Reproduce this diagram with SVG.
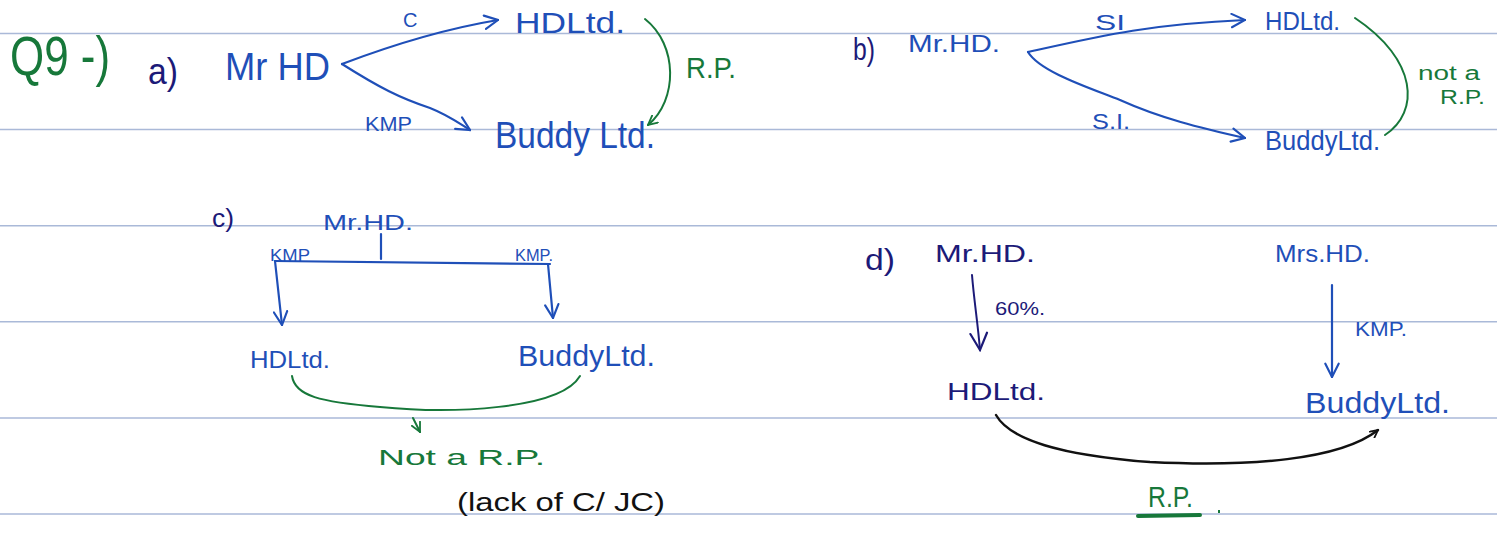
<svg xmlns="http://www.w3.org/2000/svg" width="1497" height="533" viewBox="0 0 1497 533">
<style>
.t{font-family:"Liberation Sans","DejaVu Sans",sans-serif}
.blue{fill:#1f4fb8}
.navy{fill:#1c1a78}
.green{fill:#17783a}
.black{fill:#111}
.rule{stroke:#aab9d8;stroke-width:1.5}
.cb{fill:none;stroke:#1f4fb8;stroke-width:2.2;stroke-linecap:round}
.cn{fill:none;stroke:#1c1a78;stroke-width:2;stroke-linecap:round}
.cg{fill:none;stroke:#17783a;stroke-width:2;stroke-linecap:round}
.ck{fill:none;stroke:#111;stroke-width:2.4;stroke-linecap:round}
</style>
<defs>
<marker id="ab" viewBox="0 0 12 12" refX="11" refY="6" markerWidth="16" markerHeight="16" orient="auto" markerUnits="userSpaceOnUse"><path d="M1,1 L11,6 L1,11" fill="none" stroke="#1f4fb8" stroke-width="1.6" stroke-linecap="round"/></marker>
<marker id="an" viewBox="0 0 12 12" refX="11" refY="6" markerWidth="20" markerHeight="20" orient="auto" markerUnits="userSpaceOnUse"><path d="M1,1 L11,6 L1,11" fill="none" stroke="#1c1a78" stroke-width="1.3" stroke-linecap="round"/></marker>
<marker id="ag" viewBox="0 0 12 12" refX="11" refY="6" markerWidth="11" markerHeight="11" orient="auto" markerUnits="userSpaceOnUse"><path d="M1,1 L11,6 L1,11" fill="none" stroke="#17783a" stroke-width="2" stroke-linecap="round"/></marker>
<marker id="ak" viewBox="0 0 12 12" refX="11" refY="6" markerWidth="9" markerHeight="9" orient="auto" markerUnits="userSpaceOnUse"><path d="M1,1 L11,6 L1,11" fill="none" stroke="#111" stroke-width="2.4" stroke-linecap="round"/></marker>
</defs>
<rect width="1497" height="533" fill="#fff"/>
<g id="rules">
<line class="rule" x1="0" y1="33.5" x2="1497" y2="33.5"/>
<line class="rule" x1="0" y1="129.5" x2="1497" y2="129.5"/>
<line class="rule" x1="0" y1="225.7" x2="1497" y2="225.7"/>
<line class="rule" x1="0" y1="321.7" x2="1497" y2="321.7"/>
<line class="rule" x1="0" y1="418" x2="1497" y2="418"/>
<line class="rule" x1="0" y1="514" x2="1497" y2="514"/>
</g>
<g id="connectors">
<path class="cb" d="M342,64 C400,42 450,28 498,20" marker-end="url(#ab)"/>
<path class="cb" d="M342,64 C380,88 400,98 430,108 C450,116 460,124 470,130" marker-end="url(#ab)"/>
<path class="cg" d="M645,19 C678,45 678,100 648,125" marker-end="url(#ag)"/>
<path class="cb" d="M1028,52 C1100,36 1150,24 1245,20" marker-end="url(#ab)"/>
<path class="cb" d="M1028,52 C1040,72 1090,88 1120,100 C1160,118 1200,128 1245,138" marker-end="url(#ab)"/>
<path class="cg" d="M1355,18 C1418,60 1420,112 1385,135"/>
<path class="cb" d="M381,234 L381,259"/>
<path class="cb" d="M275,261 L550,264"/>
<path class="cb" d="M275,261 L282,325" marker-end="url(#ab)"/>
<path class="cb" d="M548,264 L553,318" marker-end="url(#ab)"/>
<path class="cg" d="M292,376 C295,396 320,402 380,407 C450,414 560,410 580,376"/>
<path class="cg" d="M413,418 L420,432" marker-end="url(#ag)"/>
<path class="cn" d="M972,275 C974,300 978,325 980,350" marker-end="url(#an)"/>
<path class="cb" d="M1332,285 L1332,377" marker-end="url(#ab)"/>
<path class="ck" d="M996,415 C1010,440 1060,455 1150,462 C1250,467 1340,460 1378,430" marker-end="url(#ak)"/>
</g>
<g id="heading"><text class="t green" x="10" y="75" font-size="56" textLength="100" lengthAdjust="spacingAndGlyphs">Q9 -)</text></g>
<g id="part-a">
<text class="t navy" x="148" y="84" font-size="36" textLength="30" lengthAdjust="spacingAndGlyphs">a)</text>
<g id="a-mrhd"><text class="t blue" x="225" y="80" font-size="38" textLength="105" lengthAdjust="spacingAndGlyphs">Mr HD</text></g>
<g id="a-hdl"><text class="t blue" x="515" y="33" font-size="30" textLength="110" lengthAdjust="spacingAndGlyphs">HDLtd.</text></g>
<g id="a-buddy"><text class="t blue" x="495" y="148" font-size="36" textLength="160" lengthAdjust="spacingAndGlyphs">Buddy Ltd.</text></g>
<text class="t blue" x="403" y="27" font-size="20">C</text>
<text class="t blue" x="365" y="131" font-size="20" textLength="47" lengthAdjust="spacingAndGlyphs">KMP</text>
<text class="t green" x="686" y="78" font-size="30" textLength="50" lengthAdjust="spacingAndGlyphs">R.P.</text>
</g>
<g id="part-b">
<text class="t navy" x="853" y="60" font-size="32" textLength="22" lengthAdjust="spacingAndGlyphs">b)</text>
<g id="b-mrhd"><text class="t blue" x="908" y="52" font-size="24" textLength="92" lengthAdjust="spacingAndGlyphs">Mr.HD.</text></g>
<g id="b-hdl"><text class="t blue" x="1265" y="30" font-size="26" textLength="75" lengthAdjust="spacingAndGlyphs">HDLtd.</text></g>
<g id="b-buddy"><text class="t blue" x="1265" y="150" font-size="28" textLength="115" lengthAdjust="spacingAndGlyphs">BuddyLtd.</text></g>
<text class="t blue" x="1095" y="30" font-size="22" textLength="30" lengthAdjust="spacingAndGlyphs">SI</text>
<text class="t blue" x="1092" y="129" font-size="22" textLength="38" lengthAdjust="spacingAndGlyphs">S.I.</text>
<text class="t green" x="1418" y="80" font-size="20" textLength="62" lengthAdjust="spacingAndGlyphs">not a</text>
<text class="t green" x="1440" y="104" font-size="20" textLength="45" lengthAdjust="spacingAndGlyphs">R.P.</text>
</g>
<g id="part-c">
<text class="t navy" x="212" y="227" font-size="26" textLength="22" lengthAdjust="spacingAndGlyphs">c)</text>
<g id="c-mrhd"><text class="t blue" x="323" y="230" font-size="22" textLength="90" lengthAdjust="spacingAndGlyphs">Mr.HD.</text></g>
<text class="t blue" x="270" y="261" font-size="17" textLength="40" lengthAdjust="spacingAndGlyphs">KMP</text>
<text class="t blue" x="515" y="261" font-size="17" textLength="38" lengthAdjust="spacingAndGlyphs">KMP.</text>
<g id="c-hdl"><text class="t blue" x="250" y="368" font-size="24" textLength="80" lengthAdjust="spacingAndGlyphs">HDLtd.</text></g>
<g id="c-buddy"><text class="t blue" x="518" y="366" font-size="30" textLength="137" lengthAdjust="spacingAndGlyphs">BuddyLtd.</text></g>
<text class="t green" x="378" y="465" font-size="22" textLength="167" lengthAdjust="spacingAndGlyphs">Not a R.P.</text>
<text class="t black" x="457" y="511" font-size="26" textLength="208" lengthAdjust="spacingAndGlyphs">(lack of C/ JC)</text>
</g>
<g id="part-d">
<text class="t navy" x="865" y="270" font-size="30" textLength="30" lengthAdjust="spacingAndGlyphs">d)</text>
<g id="d-mrhd"><text class="t navy" x="935" y="262" font-size="24" textLength="100" lengthAdjust="spacingAndGlyphs">Mr.HD.</text></g>
<text class="t navy" x="995" y="315" font-size="18" textLength="50" lengthAdjust="spacingAndGlyphs">60%.</text>
<g id="d-hdl"><text class="t navy" x="947" y="400" font-size="24" textLength="98" lengthAdjust="spacingAndGlyphs">HDLtd.</text></g>
<g id="d-mrshd"><text class="t blue" x="1275" y="262" font-size="24" textLength="95" lengthAdjust="spacingAndGlyphs">Mrs.HD.</text></g>
<text class="t blue" x="1355" y="336" font-size="20" textLength="52" lengthAdjust="spacingAndGlyphs">KMP.</text>
<g id="d-buddy"><text class="t blue" x="1305" y="413" font-size="30" textLength="145" lengthAdjust="spacingAndGlyphs">BuddyLtd.</text></g>
<text class="t green" x="1148" y="507" font-size="30" textLength="45" lengthAdjust="spacingAndGlyphs">R.P.</text>
<path d="M1138,516 L1200,515" fill="none" stroke="#17783a" stroke-width="4" stroke-linecap="round"/>
<path d="M1219,510 L1219,513" fill="none" stroke="#17783a" stroke-width="2"/>
</g>
</svg>
